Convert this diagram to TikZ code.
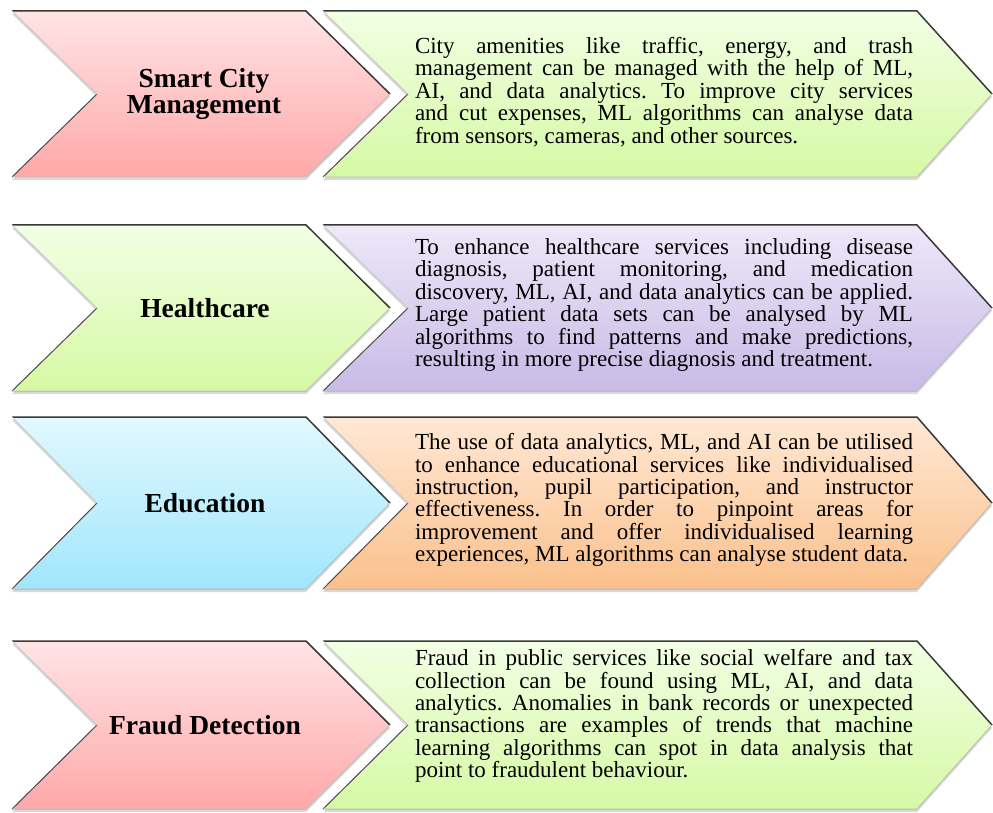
\documentclass[tikz,border=0pt]{standalone}
\usepackage{fontspec}
\setmainfont{Liberation Serif}
\usepackage{tikz}
\usetikzlibrary{shadows}
\hyphenpenalty=10000
\tolerance=9999
\frenchspacing
\definecolor{pinktop}{RGB}{255,228,230}
\definecolor{pinkbot}{RGB}{255,168,168}
\definecolor{greentop}{RGB}{242,255,228}
\definecolor{greenbot}{RGB}{214,249,165}
\definecolor{purpletop}{RGB}{238,232,249}
\definecolor{purplebot}{RGB}{200,186,230}
\definecolor{bluetop}{RGB}{226,248,255}
\definecolor{bluebot}{RGB}{160,230,252}
\definecolor{orangetop}{RGB}{255,232,212}
\definecolor{orangebot}{RGB}{250,192,140}
\def\chevron[#1](#2:#3:#4:#5)(#6:#7){%
	\fill[#1, drop shadow={shadow xshift=0pt, shadow yshift=-3pt, opacity=0.3}] (#2, #6) -- (#4, #6) -- ({#4+#5}, {(#6+#7)/2}) -- (#4, #7) -- (#2, #7) -- ({#2+#3}, {(#6+#7)/2}) -- cycle;
	\draw[line width=1.5pt, color=black!78] (#2, #6) -- (#4, #6) -- ({#4+#5}, {(#6+#7)/2});
	\draw[line width=1pt, color=black!70] (#2, #7) -- ({#2+#3}, {(#6+#7)/2});
	\draw[line width=0.8pt, color=black!20] (#2, #6) -- ({#2+#3}, {(#6+#7)/2});
	\draw[line width=0.8pt, color=black!25] ({#4+#5}, {(#6+#7)/2}) -- (#4, #7) -- (#2, #7);
}
\tikzset{
	pinkfill/.style={top color=pinktop, bottom color=pinkbot},
	greenfill/.style={top color=greentop, bottom color=greenbot},
	purplefill/.style={top color=purpletop, bottom color=purplebot},
	bluefill/.style={top color=bluetop, bottom color=bluebot},
	orangefill/.style={top color=orangetop, bottom color=orangebot},
	title/.style={font=\fontsize{27.5}{26}\selectfont\bfseries, align=center, inner sep=0pt},
	desc/.style={text width=498pt, align=justify, inner sep=0pt, font=\fontsize{23}{22.4}\selectfont}
}

\begin{document}
\begin{tikzpicture}[x=1pt, y=-1pt]
			%%%%% START %%%%%
			\useasboundingbox (0, 0) rectangle (993, 813);
			
			% smart city
			\chevron[pinkfill](12:85:306:84)(11:177)
			\chevron[greenfill](323:85:917:75)(11:177)
			\node[title] (smart) at (204, 94) {Smart City\\Management};
			\node[desc] (smartdesc) at (664, 92) {City amenities like traffic, energy, and trash\linebreak
				management can be managed with the help of ML,\linebreak
				AI, and data analytics. To improve city services\linebreak
				and cut expenses, ML algorithms can analyse data\linebreak
				from sensors, cameras, and other sources.};
			
			% healthcare
			\chevron[greenfill](12:85:306:84)(225:391)
			\chevron[purplefill](323:85:917:75)(225:391)
			\node[title] (health) at (205, 308) {Healthcare};
			\node[desc] (healthdesc) at (664, 305) {To enhance healthcare services including disease\linebreak
				diagnosis, patient monitoring, and medication\linebreak
				discovery, ML, AI, and data analytics can be applied.\linebreak
				Large patient data sets can be analysed by ML\linebreak
				algorithms to find patterns and make predictions,\linebreak
				resulting in more precise diagnosis and treatment.};
			
			% education
			\chevron[bluefill](12:85:306:84)(417:589)
			\chevron[orangefill](323:85:917:75)(417:589)
			\node[title] (edu) at (205, 503) {Education};
			\node[desc] (edudesc) at (664, 500) {The use of data analytics, ML, and AI can be utilised\linebreak
				to enhance educational services like individualised\linebreak
				instruction, pupil participation, and instructor\linebreak
				effectiveness. In order to pinpoint areas for\linebreak
				improvement and offer individualised learning\linebreak
				experiences, ML algorithms can analyse student data.};
			
			% fraud
			\chevron[pinkfill](12:85:306:84)(641:809)
			\chevron[greenfill](323:85:917:75)(641:809)
			\node[title] (fraud) at (205, 725) {Fraud Detection};
			\node[desc] (frauddesc) at (664, 716) {Fraud in public services like social welfare and tax\linebreak
				collection can be found using ML, AI, and data\linebreak
				analytics. Anomalies in bank records or unexpected\linebreak
				transactions are examples of trends that machine\linebreak
				learning algorithms can spot in data analysis that\linebreak
				point to fraudulent behaviour.};
			
			%%%%% END %%%%%
\end{tikzpicture}
\end{document}
